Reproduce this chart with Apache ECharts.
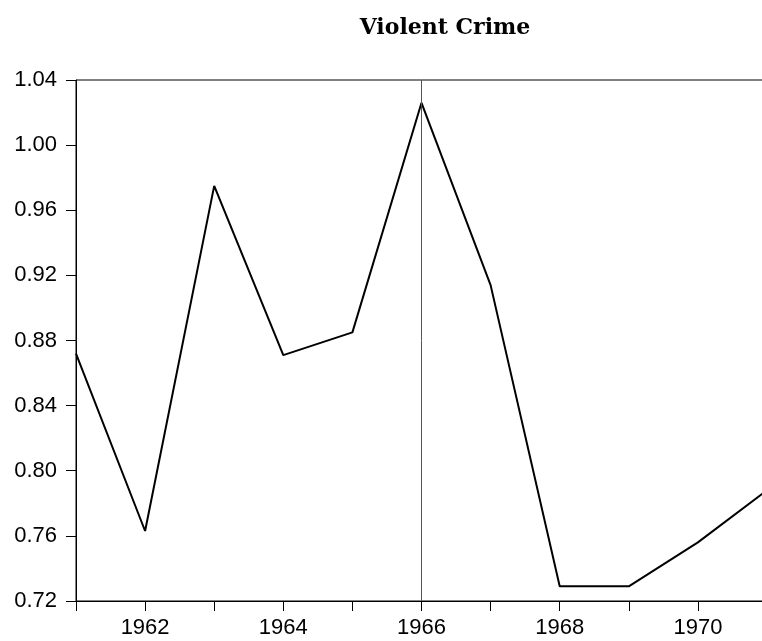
<!DOCTYPE html>
<html>
<head>
<meta charset="utf-8">
<script src="https://cdn.jsdelivr.net/npm/echarts@6/dist/echarts.min.js"></script>
<style>
  html, body { margin: 0; padding: 0; background: #fff; overflow: hidden; }
  /* a bit wider than the window: the plot runs past the right edge */
  #chart { width: 770px; height: 641px; }
</style>
</head>
<body>
<div id="chart"></div>
<script>
// yearly values
const years = [1961, 1962, 1963, 1964, 1965, 1966, 1967, 1968, 1969, 1970, 1971];
const crime = [0.872, 0.763, 0.975, 0.871, 0.885, 1.026, 0.914, 0.729, 0.729, 0.756, 0.788];
const markYear = 1966;

const chart = echarts.init(document.getElementById("chart"));

const option = {
  animation: false,
  title: {
    text: "Violent Crime",
    left: 440,
    top: 12,
    textAlign: "center",
    textStyle: {
      fontFamily: "DejaVu Serif",
      fontWeight: "bold",
      fontSize: 22,
      color: "#000",
    },
  },
  grid: {
    left: 76,
    top: 80,
    right: 2,
    bottom: 40,
    show: true,
    borderColor: "#000",
    borderWidth: 1,
  },
  xAxis: {
    type: "value",
    min: 1961,
    max: 1971,
    interval: 1,
    splitLine: { show: false },
    axisLine: { lineStyle: { color: "#000", width: 1 } },
    axisTick: { length: 10, lineStyle: { color: "#000" } },
    axisLabel: {
      margin: 16,
      color: "#000",
      fontFamily: "Liberation Sans",
      fontSize: 22,
      formatter: (v) => (v % 2 === 0 ? String(v) : ""),
    },
  },
  yAxis: {
    type: "value",
    min: 0.72,
    max: 1.04,
    interval: 0.04,
    splitLine: { show: false },
    axisLine: { show: true, lineStyle: { color: "#000", width: 1 } },
    axisTick: { show: true, length: 10, lineStyle: { color: "#000" } },
    axisLabel: {
      margin: 19,
      color: "#000",
      fontFamily: "Liberation Sans",
      fontSize: 22,
      formatter: (v) => v.toFixed(2),
    },
  },
  series: [
    {
      type: "line",
      data: years.map((y, i) => [y, crime[i]]),
      showSymbol: false,
      lineStyle: { color: "#000", width: 2 },
      markLine: {
        silent: true,
        symbol: "none",
        label: { show: false },
        lineStyle: { color: "#555", width: 1, type: "solid" },
        data: [{ xAxis: markYear }],
      },
    },
  ],
};

chart.setOption(option);
</script>
</body>
</html>
